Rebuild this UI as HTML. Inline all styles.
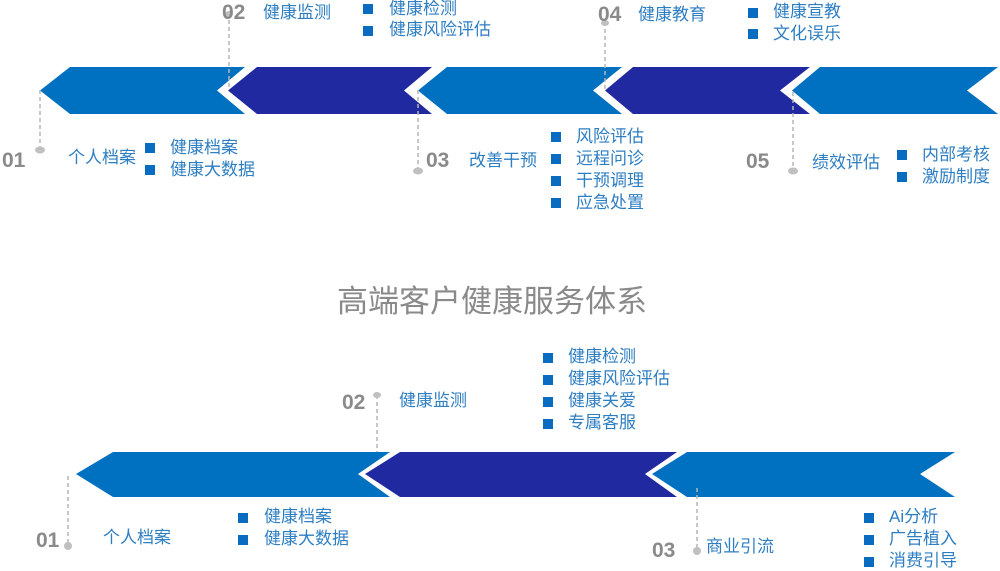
<!DOCTYPE html>
<html><head><meta charset="utf-8"><style>
html,body{margin:0;padding:0;background:#fff;}
#c{position:relative;width:1000px;height:571px;overflow:hidden;font-family:"Liberation Sans","Noto Sans CJK SC",sans-serif;}
.t{position:absolute;color:#2e7ec2;font-size:17px;line-height:20px;white-space:nowrap;}
.n{position:absolute;color:#8a8a8a;font-size:21px;font-weight:bold;line-height:22px;}
.b{position:absolute;width:10px;height:10px;background:#0a6cc0;}
svg{position:absolute;left:0;top:0;}
</style></head><body><div id="c">
<svg width="1000" height="571">
<g>
<polygon points="40,90.5 70,67 245,67 217,90.5 245,114 70,114" fill="#0070c0"/>
<polygon points="228,90.5 257,67 432,67 404,90.5 432,114 257,114" fill="#2129a0"/>
<polygon points="418,90.5 447,67 622,67 593,90.5 622,114 447,114" fill="#0070c0"/>
<polygon points="605,90.5 633,67 810,67 780,90.5 810,114 633,114" fill="#2129a0"/>
<polygon points="792,90.5 820,67 998,67 967,90.5 998,114 820,114" fill="#0070c0"/>
</g>
<g>
<polygon points="76,474 113,452 390,452 358,474 390,497 113,497" fill="#0070c0"/>
<polygon points="365,474 400,452 677,452 645,474 677,497 400,497" fill="#2129a0"/>
<polygon points="652,474 687,452 955,452 920,474 955,497 687,497" fill="#0070c0"/>
</g>
<g stroke="#b5b5b5" stroke-width="1.5" stroke-dasharray="4,3" fill="none">
<line x1="229" y1="20" x2="229" y2="90"/>
<line x1="40" y1="90" x2="40" y2="150"/>
<line x1="418" y1="90" x2="418" y2="170"/>
<line x1="605" y1="22" x2="605" y2="90"/>
<line x1="793" y1="92" x2="793" y2="170"/>
<line x1="68" y1="476" x2="68" y2="545"/>
<line x1="377" y1="395" x2="377" y2="452"/>
<line x1="697" y1="488" x2="697" y2="550"/>
</g>
<g fill="#c0c0c0">
<ellipse cx="40" cy="150" rx="5" ry="3.5"/>
<ellipse cx="418" cy="171" rx="5" ry="3.5"/>
<ellipse cx="793" cy="171" rx="5" ry="3.5"/>
<ellipse cx="229" cy="14" rx="4" ry="3"/>
<ellipse cx="605" cy="23" rx="4" ry="3"/>
<ellipse cx="68" cy="546" rx="4" ry="4"/>
<ellipse cx="377" cy="395" rx="4" ry="3"/>
<ellipse cx="697" cy="551" rx="4" ry="4"/>
</g>
</svg>

<div class="n" style="left:222px;top:2px">02</div>
<div class="t" style="left:263px;top:3px">健康监测</div>
<div class="b" style="left:363px;top:4px"></div><div class="t" style="left:389px;top:-1px">健康检测</div>
<div class="b" style="left:363px;top:26px"></div><div class="t" style="left:389px;top:20px">健康风险评估</div>

<div class="n" style="left:2px;top:150px">01</div>
<div class="t" style="left:68px;top:148px">个人档案</div>
<div class="b" style="left:145px;top:143px"></div><div class="t" style="left:170px;top:138px">健康档案</div>
<div class="b" style="left:145px;top:165px"></div><div class="t" style="left:170px;top:160px">健康大数据</div>

<div class="n" style="left:426px;top:150px">03</div>
<div class="t" style="left:469px;top:151px">改善干预</div>
<div class="b" style="left:551px;top:132px"></div><div class="t" style="left:576px;top:127px">风险评估</div>
<div class="b" style="left:551px;top:154px"></div><div class="t" style="left:576px;top:149px">远程问诊</div>
<div class="b" style="left:551px;top:176px"></div><div class="t" style="left:576px;top:171px">干预调理</div>
<div class="b" style="left:551px;top:198px"></div><div class="t" style="left:576px;top:193px">应急处置</div>

<div class="n" style="left:598px;top:4px">04</div>
<div class="t" style="left:638px;top:5px">健康教育</div>
<div class="b" style="left:748px;top:8px"></div><div class="t" style="left:773px;top:2px">健康宣教</div>
<div class="b" style="left:748px;top:29px"></div><div class="t" style="left:773px;top:24px">文化误乐</div>

<div class="n" style="left:746px;top:151px">05</div>
<div class="t" style="left:812px;top:153px">绩效评估</div>
<div class="b" style="left:897px;top:150px"></div><div class="t" style="left:922px;top:145px">内部考核</div>
<div class="b" style="left:897px;top:172px"></div><div class="t" style="left:922px;top:167px">激励制度</div>

<div class="t" style="left:337px;top:284px;font-size:31px;line-height:36px;color:#8a8a8a">高端客户健康服务体系</div>

<div class="n" style="left:36px;top:530px">01</div>
<div class="t" style="left:103px;top:528px">个人档案</div>
<div class="b" style="left:238px;top:513px"></div><div class="t" style="left:264px;top:507px">健康档案</div>
<div class="b" style="left:238px;top:535px"></div><div class="t" style="left:264px;top:529px">健康大数据</div>

<div class="n" style="left:342px;top:392px">02</div>
<div class="t" style="left:399px;top:391px">健康监测</div>
<div class="b" style="left:543px;top:353px"></div><div class="t" style="left:568px;top:347px">健康检测</div>
<div class="b" style="left:543px;top:375px"></div><div class="t" style="left:568px;top:369px">健康风险评估</div>
<div class="b" style="left:543px;top:397px"></div><div class="t" style="left:568px;top:391px">健康关爱</div>
<div class="b" style="left:543px;top:419px"></div><div class="t" style="left:568px;top:413px">专属客服</div>

<div class="n" style="left:652px;top:540px">03</div>
<div class="t" style="left:706px;top:537px">商业引流</div>
<div class="b" style="left:864px;top:513px"></div><div class="t" style="left:889px;top:507px">Ai分析</div>
<div class="b" style="left:864px;top:535px"></div><div class="t" style="left:889px;top:529px">广告植入</div>
<div class="b" style="left:864px;top:557px"></div><div class="t" style="left:889px;top:551px">消费引导</div>
</div></body></html>
